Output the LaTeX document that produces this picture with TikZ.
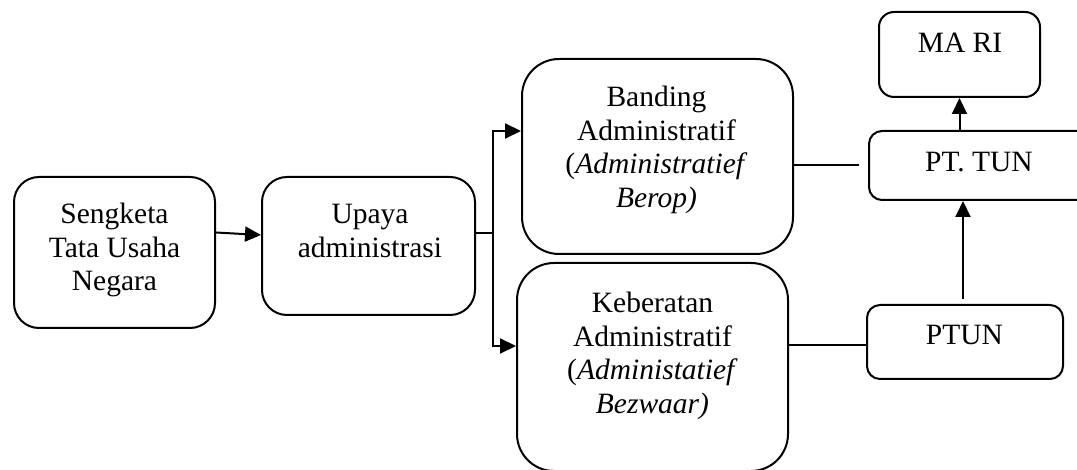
\documentclass[tikz,border=0pt]{standalone}
\usepackage{fontspec}
\setmainfont{Liberation Serif}
\usetikzlibrary{arrows.meta,calc}
\begin{document}
\begin{tikzpicture}[x=1pt,y=-1pt,
  box/.style={draw,line width=2pt,rectangle,inner sep=0pt},
  txt/.style={align=center,inner sep=0pt,font=\fontsize{29.5}{33.5}\selectfont},
  ln/.style={line width=2pt},
  arr/.style={line width=2pt,-{Triangle[length=16pt,width=15pt]}}]
\clip (0,0) rectangle (1077,470);
\useasboundingbox (0,0) rectangle (1077,470);
% boxes
\node[box,rounded corners=25pt,minimum width=201pt,minimum height=151pt] (sengketa) at (114.5,252.5) {};
\node[box,rounded corners=25pt,minimum width=213pt,minimum height=138pt] (upaya) at (368.5,246) {};
\node[box,rounded corners=37pt,minimum width=271pt,minimum height=195pt] (banding) at (657.5,156.5) {};
\node[box,rounded corners=37pt,minimum width=271pt,minimum height=208pt] (keberatan) at (652.5,367) {};
\node[box,rounded corners=15pt,minimum width=161pt,minimum height=85pt] (mari) at (959.5,54.5) {};
\node[box,rounded corners=13pt,minimum width=240pt,minimum height=69pt] (pttun) at (989,165.5) {};
\node[box,rounded corners=13pt,minimum width=196pt,minimum height=74pt] (ptun) at (965,342) {};
% texts
\node[txt] (sengketaT) at (114.5,250) {Sengketa\\Tata Usaha\\Negara};
\node[txt] (upayaT) at (370,231) {Upaya\\administrasi};
\node[txt] (bandingT) at (656.5,150) {Banding\\Administratif\\(\textit{Administratief}\\\textit{Berop)}};
\node[txt] (keberatanT) at (652.5,356) {Keberatan\\Administratif\\(\textit{Administatief}\\\textit{Bezwaar)}};
\node[txt] (mariT) at (960,42.5) {MA RI};
\node[txt] (pttunT) at (979,162) {PT. TUN};
\node[txt] (ptunT) at (964.5,335) {PTUN};
% connectors
\draw[arr] ([yshift=20pt]sengketa.east) -- ([yshift=11pt]upaya.west);
\coordinate (br) at (493,233);
\draw[ln] ([yshift=13pt]upaya.east) -- (br);
\draw[arr] (br) |- ([yshift=25.5pt]banding.west);
\draw[arr] (br) |- ([yshift=21pt]keberatan.west);
\draw[ln] (banding.east |- pttun.west) -- ([xshift=-9pt]pttun.west);
\draw[ln] ([yshift=-3pt]keberatan.east |- ptun.west) -- ([yshift=-3pt]ptun.west);
\draw[arr] ([xshift=-2pt,yshift=5pt]ptun.north) -- ([xshift=-2pt]ptun.north |- pttun.south);
\draw[arr] (mari.south |- pttun.north) -- (mari.south);
\end{tikzpicture}
\end{document}
